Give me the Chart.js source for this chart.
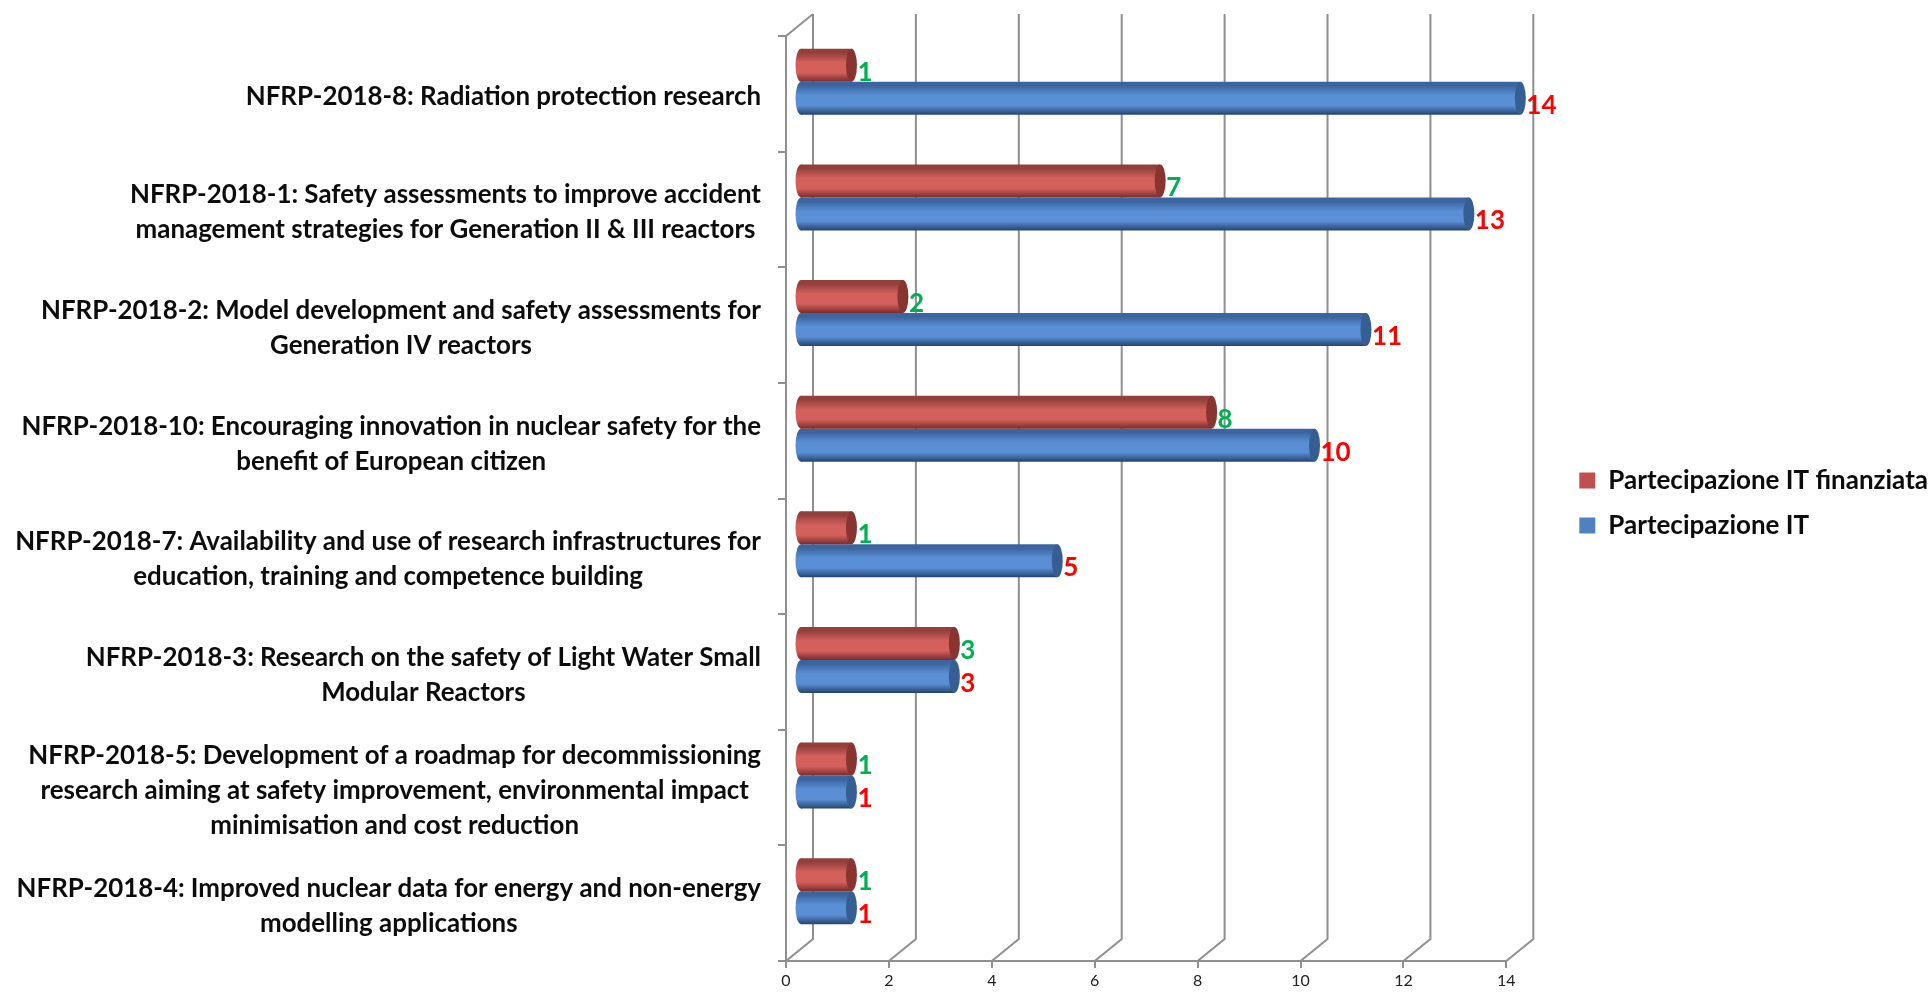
<!DOCTYPE html>
<html>
<head>
<meta charset="utf-8">
<title>NFRP 2018</title>
<script src="https://cdn.jsdelivr.net/npm/chart.js@4"></script>
<style>
  html, body { margin: 0; padding: 0; background: #fff; overflow: hidden; }
  #wrap { width: 1930px; height: 994px; }
</style>
</head>
<body>
<div id="wrap"><canvas id="barChart"></canvas></div>
<script>
// categories, top to bottom
const categories = [
  ['NFRP-2018-8: Radiation protection research'],
  ['NFRP-2018-1: Safety assessments to improve accident', 'management strategies for Generation II & III reactors'],
  ['NFRP-2018-2: Model development and safety assessments for', 'Generation IV reactors'],
  ['NFRP-2018-10: Encouraging innovation in nuclear safety for the', 'benefit of European citizen'],
  ['NFRP-2018-7: Availability and use of research infrastructures for', 'education, training and competence building'],
  ['NFRP-2018-3: Research on the safety of Light Water Small', 'Modular Reactors'],
  ['NFRP-2018-5: Development of a roadmap for decommissioning', 'research aiming at safety improvement, environmental impact', 'minimisation and cost reduction'],
  ['NFRP-2018-4: Improved nuclear data for energy and non-energy', 'modelling applications']
];
const finanziata = [1, 7, 2, 8, 1, 3, 1, 1];
const partecipazione = [14, 13, 11, 10, 5, 3, 1, 1];
const seriesNames = ['Partecipazione IT finanziata', 'Partecipazione IT'];
const legendColors = ['#c0504d', '#4f81bd'];
const xTicks = [0, 2, 4, 6, 8, 10, 12, 14];

const FONT = 'Lato';
const CAT_PCT = 0.57;
const BAR_DX = 14, BAR_DY = -12;     // bars sit in the middle of the fake 3D depth
const WALL_DX = 27, WALL_DY = -22;   // back wall offset
const GRID = '#8f8f8f';

// cylinder look: vertical gradient for each bar
function cylinder(flat, edge, mid, dark, first) {
  return function (ctx) {
    const area = ctx.chart.chartArea;
    if (ctx.dataIndex === undefined || !area) return flat;
    const y = ctx.chart.scales.y;
    const h = (y.height / categories.length) * CAT_PCT / 2;
    const c = y.getPixelForTick(ctx.dataIndex);
    const top = first ? c - h : c;
    const g = ctx.chart.ctx.createLinearGradient(0, top, 0, top + h);
    g.addColorStop(0, edge);
    g.addColorStop(0.12, edge);
    g.addColorStop(0.42, mid);
    g.addColorStop(0.72, mid);
    g.addColorStop(1, dark);
    return g;
  };
}

const depthPlugin = {
  id: 'depth',
  // back wall grid and floor diagonals
  beforeDatasetsDraw(chart) {
    const { ctx, chartArea: a, scales } = chart;
    ctx.save();
    ctx.strokeStyle = GRID;
    ctx.lineWidth = 2;
    xTicks.forEach(v => {
      const x = scales.x.getPixelForValue(v);
      ctx.beginPath();
      ctx.moveTo(x + WALL_DX, a.top + WALL_DY);
      ctx.lineTo(x + WALL_DX, a.bottom + WALL_DY);
      ctx.lineTo(x, a.bottom);
      ctx.stroke();
    });
    ctx.beginPath();
    ctx.moveTo(a.left, a.top);
    ctx.lineTo(a.left + WALL_DX, a.top + WALL_DY);
    ctx.stroke();
    ctx.restore();
  },
  beforeDatasetDraw(chart) {
    chart.ctx.save();
    chart.ctx.translate(BAR_DX, BAR_DY);
  },
  // round ends of the cylinders
  afterDatasetDraw(chart, args) {
    const { ctx } = chart;
    const caps = args.index === 0 ? '#8a3431' : '#355f92';
    chart.getDatasetMeta(args.index).data.forEach(bar => {
      const o = bar.options;
      const h = bar.height / 2;
      ctx.fillStyle = o.backgroundColor;
      ctx.beginPath();
      ctx.ellipse(bar.base, bar.y, 5.5, h, 0, 0, Math.PI * 2);
      ctx.fill();
      ctx.fillStyle = caps;
      ctx.beginPath();
      ctx.ellipse(bar.x, bar.y, 5.5, h, 0, 0, Math.PI * 2);
      ctx.fill();
    });
    ctx.restore();
  },
  afterDatasetsDraw(chart) {
    const { ctx, scales } = chart;
    ctx.save();
    // value labels
    ctx.font = 'bold 26px ' + FONT;
    ctx.textAlign = 'left';
    ctx.textBaseline = 'middle';
    chart.data.datasets.forEach((ds, i) => {
      ctx.fillStyle = i === 0 ? '#00b050' : '#ff0000';
      chart.getDatasetMeta(i).data.forEach((bar, j) => {
        ctx.fillText(ds.data[j], bar.x + BAR_DX + 6, bar.y + BAR_DY + 7);
      });
    });
    // category labels: each block centred on itself, right edges lined up
    ctx.font = 'bold 25.9px ' + FONT;
    ctx.textAlign = 'center';
    ctx.fillStyle = '#0c0c0c';
    chart.data.labels.forEach((lines, i) => {
      const widest = Math.max(...lines.map(l => ctx.measureText(l).width));
      const cx = 761 - widest / 2;
      const cy = scales.y.getPixelForTick(i) + 3;
      lines.forEach((l, k) => {
        ctx.fillText(l, cx, cy + (k - (lines.length - 1) / 2) * 35);
      });
    });
    ctx.restore();
  }
};

new Chart(document.getElementById('barChart'), {
  type: 'bar',
  data: {
    labels: categories,
    datasets: [
      {
        label: seriesNames[0],
        data: finanziata,
        backgroundColor: cylinder(legendColors[0], '#93403d', '#d4605c', '#7a2c2a', true),
        categoryPercentage: CAT_PCT,
        barPercentage: 1,
        clip: false
      },
      {
        label: seriesNames[1],
        data: partecipazione,
        backgroundColor: cylinder(legendColors[1], '#3c659f', '#5a8fd6', '#254470', false),
        categoryPercentage: CAT_PCT,
        barPercentage: 1,
        clip: false
      }
    ]
  },
  plugins: [depthPlugin],
  options: {
    indexAxis: 'y',
    responsive: true,
    maintainAspectRatio: false,
    animation: false,
    layout: { padding: { top: 12, right: -8, bottom: 0, left: 0 } },
    scales: {
      x: {
        min: 0,
        max: 14,
        afterFit: s => { s.height = 33; },
        afterBuildTicks: s => { s.ticks = xTicks.map(v => ({ value: v })); },
        grid: { drawOnChartArea: false, color: GRID, lineWidth: 2, tickLength: 7 },
        border: { color: GRID, width: 2 },
        ticks: { color: '#222', font: { family: FONT, size: 16 }, padding: 3, maxRotation: 0 }
      },
      y: {
        afterFit: s => { s.width = 786; },
        grid: { drawOnChartArea: false, color: GRID, lineWidth: 2, tickLength: 8 },
        border: { color: GRID, width: 2 },
        ticks: { display: false }
      },
      // empty axes, they only hold the space above the plot and before the legend
      gap: {
        axis: 'y',
        position: 'right',
        afterFit: s => { s.width = 54; },
        grid: { display: false },
        border: { display: false },
        ticks: { display: false }
      },
      topGap: {
        axis: 'x',
        position: 'top',
        afterFit: s => { s.height = 24; },
        grid: { display: false },
        border: { display: false },
        ticks: { display: false }
      }
    },
    plugins: {
      tooltip: { enabled: false },
      legend: {
        position: 'right',
        maxWidth: 420,
        labels: {
          boxWidth: 16,
          boxHeight: 16,
          padding: 19,
          color: '#0c0c0c',
          font: { family: FONT, size: 26, weight: 'bold' },
          // bars use gradients, the legend keys stay flat
          generateLabels(chart) {
            return Chart.defaults.plugins.legend.labels.generateLabels(chart).map(item => {
              item.fillStyle = legendColors[item.datasetIndex];
              return item;
            });
          }
        }
      }
    }
  }
});
</script>
</body>
</html>
